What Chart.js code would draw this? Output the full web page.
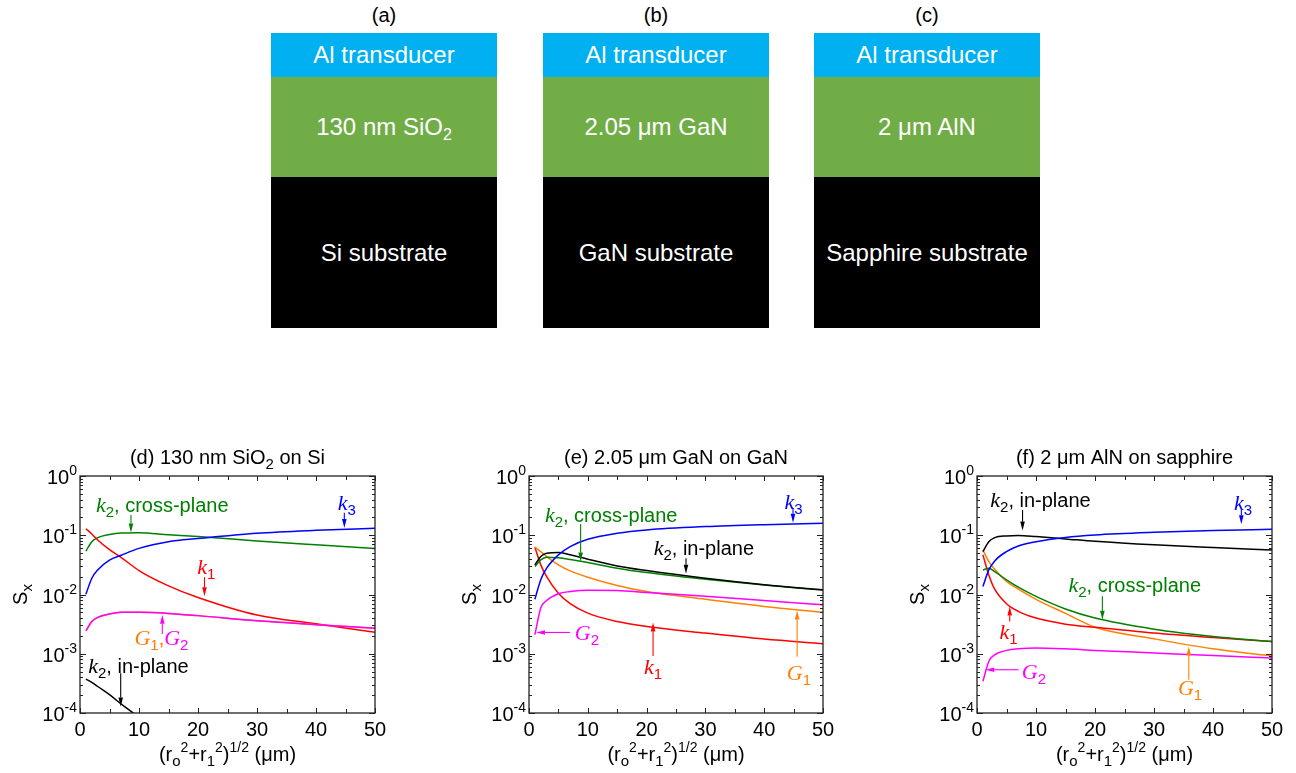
<!DOCTYPE html>
<html>
<head>
<meta charset="utf-8">
<script src="https://cdn.jsdelivr.net/npm/chart.js@4.4.0/dist/chart.umd.min.js"></script>
<style>
body { margin:0; background:#fff; width:1296px; height:773px; position:relative; overflow:hidden; font-family:"Liberation Sans", Arial, sans-serif; }
.lbl { position:absolute; top:3px; width:226px; text-align:center; font-size:20px; line-height:24px; color:#000; }
.stack { position:absolute; top:33px; width:226px; }
.layer { color:#fff; font-size:24px; display:flex; align-items:center; justify-content:center; }
.layer sub { font-size:16px; position:relative; top:5px; vertical-align:baseline; line-height:0; }
.al { height:44px; background:#00b0f0; }
.film { height:100px; background:#70ad47; }
.subs { height:151px; background:#000; }
canvas { position:absolute; top:440px; }
</style>
</head>
<body>

<div class="lbl" style="left:271px">(a)</div>
<div class="stack" style="left:271px">
  <div class="layer al"><span>Al transducer</span></div>
  <div class="layer film"><span>130 nm SiO<sub>2</sub></span></div>
  <div class="layer subs"><span>Si substrate</span></div>
</div>
<div class="lbl" style="left:543px">(b)</div>
<div class="stack" style="left:543px">
  <div class="layer al"><span>Al transducer</span></div>
  <div class="layer film"><span>2.05 μm GaN</span></div>
  <div class="layer subs"><span>GaN substrate</span></div>
</div>
<div class="lbl" style="left:814px">(c)</div>
<div class="stack" style="left:814px">
  <div class="layer al"><span>Al transducer</span></div>
  <div class="layer film"><span>2 μm AlN</span></div>
  <div class="layer subs"><span>Sapphire substrate</span></div>
</div>

<canvas id="pd" width="432" height="333" style="left:0px"></canvas>
<canvas id="pe" width="432" height="333" style="left:432px"></canvas>
<canvas id="pf" width="432" height="333" style="left:864px"></canvas>

<script>
// distance (um) where the curves were read
const xs = [1, 2, 3, 5, 7, 10, 15, 20, 30, 40, 50];

// (d) 130 nm SiO2 on Si
const dK3  = [0.0101, 0.0188, 0.026, 0.038, 0.046, 0.060, 0.078, 0.088, 0.108, 0.121, 0.131];
const dK2c = [0.054, 0.078, 0.091, 0.103, 0.109, 0.110, 0.102, 0.095, 0.080, 0.069, 0.060];
const dK1  = [0.129, 0.105, 0.083, 0.057, 0.042, 0.0254, 0.014, 0.0089, 0.0045, 0.0032, 0.0023];
const dG2  = [0.00244, 0.0035, 0.0041, 0.0047, 0.0050, 0.0050, 0.0048, 0.0044, 0.0036, 0.0031, 0.0027];
const dG1  = [0.00244, 0.0035, 0.0041, 0.0047, 0.0050, 0.0050, 0.0048, 0.0044, 0.0036, 0.0031, 0.0027];
const dK2i = [3.74e-4, 3.3e-4, 2.8e-4, 2.04e-4, 1.41e-4, 8.5e-5, null, null, null, null, null];

// (e) 2.05 um GaN on GaN
const eK3  = [0.0083, 0.0177, 0.0278, 0.0467, 0.0645, 0.0857, 0.108, 0.123, 0.140, 0.151, 0.159];
const eK2i = [0.0316, 0.0437, 0.0497, 0.051, 0.0467, 0.0394, 0.0304, 0.0254, 0.0188, 0.0146, 0.012];
const eK2c = [0.0296, 0.0384, 0.0426, 0.0416, 0.039, 0.0346, 0.0278, 0.0235, 0.0181, 0.0144, 0.0119];
const eG1  = [0.0628, 0.053, 0.0437, 0.0316, 0.025, 0.0196, 0.0142, 0.0112, 0.0083, 0.0063, 0.005];
const eK1  = [0.063, 0.0316, 0.0201, 0.0105, 0.007, 0.00484, 0.0035, 0.00289, 0.00223, 0.00177, 0.00148];
const eG2  = [0.0021, 0.0059, 0.0079, 0.0103, 0.0112, 0.0118, 0.0117, 0.0108, 0.0093, 0.0079, 0.0067];

// (f) 2 um AlN on sapphire
const fK2i = [0.053, 0.078, 0.091, 0.0975, 0.099, 0.095, 0.0868, 0.079, 0.0688, 0.062, 0.0566];
const fK3  = [0.0136, 0.026, 0.0369, 0.053, 0.066, 0.078, 0.092, 0.101, 0.112, 0.12, 0.126];
const fK2c = [0.026, 0.0278, 0.0244, 0.0177, 0.0133, 0.0093, 0.0057, 0.004, 0.0026, 0.00196, 0.00161];
const fG1  = [0.0566, 0.036, 0.0267, 0.0166, 0.0123, 0.0083, 0.0048, 0.0028, 0.00179, 0.00121, 0.00092];
const fK1  = [0.0467, 0.0214, 0.0123, 0.007, 0.0052, 0.004, 0.00316, 0.0028, 0.00223, 0.00188, 0.00161];
const fG2  = [3.42e-4, 7.4e-4, 9.6e-4, 1.14e-3, 1.21e-3, 1.25e-3, 1.21e-3, 1.14e-3, 1.03e-3, 9.3e-4, 8.45e-4];

// ticks
const xTickLabels = [0, 10, 20, 30, 40, 50];
const yTickExps = [0, -1, -2, -3, -4];

const RED = '#ff0000', GREEN = '#008000', BLUE = '#0000ff', BLACK = '#000000', ORANGE = '#ff8000', MAG = '#ff00ff';
const SANS = '"Liberation Sans", Arial, sans-serif';
const SERIF = '"Liberation Serif", "Times New Roman", serif';

// rich text pieces
function n(t, c){ return {t:t, c:c, font:'20px ' + SANS, dy:0}; }
function it(t, c){ return {t:t, c:c, font:'italic 22px ' + SERIF, dy:0}; }
function sb(t, c){ return {t:t, c:c, font:'15px ' + SANS, dy:5}; }
function sp(t, c){ return {t:t, c:c, font:'14px ' + SANS, dy:-9}; }

function drawRich(ctx, parts, x, y, align){
  let w = 0;
  parts.forEach(p => { ctx.font = p.font; p.w = ctx.measureText(p.t).width; w += p.w; });
  let cx = x;
  if (align === 'center') cx = x - w / 2;
  if (align === 'right') cx = x - w;
  ctx.textAlign = 'left';
  ctx.textBaseline = 'alphabetic';
  parts.forEach(p => {
    ctx.font = p.font;
    ctx.fillStyle = p.c || '#000';
    ctx.fillText(p.t, cx, y + p.dy);
    cx += p.w;
  });
}

function arrow(ctx, x1, y1, x2, y2, color){
  const ang = Math.atan2(y2 - y1, x2 - x1);
  const L = 9, H = 2.3;
  ctx.strokeStyle = color; ctx.fillStyle = color; ctx.lineWidth = 1.1;
  ctx.beginPath();
  ctx.moveTo(x1, y1);
  ctx.lineTo(x2 - Math.cos(ang) * L, y2 - Math.sin(ang) * L);
  ctx.stroke();
  ctx.beginPath();
  ctx.moveTo(x2, y2);
  ctx.lineTo(x2 - Math.cos(ang) * L - Math.sin(ang) * H, y2 - Math.sin(ang) * L + Math.cos(ang) * H);
  ctx.lineTo(x2 - Math.cos(ang) * L + Math.sin(ang) * H, y2 - Math.sin(ang) * L - Math.cos(ang) * H);
  ctx.closePath();
  ctx.fill();
}

const k2 = (c) => [it('k', c), sb('2', c)];

// annotations: text centre (tx, ty) and arrow (ax1,ay1)->(ax2,ay2), all in data units
const notesD = [
  {parts: k2(GREEN).concat([n(', cross-plane', GREEN)]), tx:2.7, ty:0.32, align:'left', arr:[8.64, 0.22, 8.64, 0.111], c:GREEN},
  {parts: [it('k', BLUE), sb('3', BLUE)], tx:45.2, ty:0.355, align:'center', arr:[44.8, 0.24, 44.8, 0.133], c:BLUE},
  {parts: [it('k', RED), sb('1', RED)], tx:21.4, ty:0.029, align:'center', arr:[21.1, 0.0196, 21.1, 0.0093], c:RED},
  {parts: [it('G', ORANGE), sb('1', ORANGE), n(',', ORANGE), it('G', MAG), sb('2', MAG)], tx:13.8, ty:0.00184, align:'center', arr:[13.95, 0.00215, 13.95, 0.00454], c:MAG},
  {parts: k2(BLACK).concat([n(', in-plane', BLACK)]), tx:1.4, ty:6.3e-4, align:'left', arr:[6.9, 4.7e-4, 6.9, 1.29e-4], c:BLACK}
];
const notesE = [
  {parts: [it('k', BLUE), sb('3', BLUE)], tx:45.0, ty:0.369, align:'center', arr:[44.9, 0.285, 44.9, 0.163], c:BLUE},
  {parts: k2(GREEN).concat([n(', cross-plane', GREEN)]), tx:2.7, ty:0.22, align:'left', arr:[8.78, 0.155, 8.78, 0.036], c:GREEN},
  {parts: k2(BLACK).concat([n(', in-plane', BLACK)]), tx:21.2, ty:0.060, align:'left', arr:[26.7, 0.041, 26.7, 0.0223], c:BLACK},
  {parts: [it('G', MAG), sb('2', MAG)], tx:7.8, ty:0.00223, align:'left', arr:[6.96, 0.00229, 1.19, 0.00229], c:MAG},
  {parts: [it('k', RED), sb('1', RED)], tx:21.1, ty:5.96e-4, align:'center', arr:[21.1, 9.2e-4, 21.1, 3.37e-3], c:RED},
  {parts: [it('G', ORANGE), sb('1', ORANGE)], tx:45.9, ty:4.72e-4, align:'center', arr:[45.6, 8.9e-4, 45.6, 0.00537], c:ORANGE}
];
const notesF = [
  {parts: k2(BLACK).concat([n(', in-plane', BLACK)]), tx:2.25, ty:0.394, align:'left', arr:[7.72, 0.267, 7.72, 0.12], c:BLACK},
  {parts: [it('k', BLUE), sb('3', BLUE)], tx:45.1, ty:0.355, align:'center', arr:[44.8, 0.267, 44.8, 0.153], c:BLUE},
  {parts: k2(GREEN).concat([n(', cross-plane', GREEN)]), tx:15.5, ty:0.0146, align:'left', arr:[21.25, 0.0093, 21.25, 0.00374], c:GREEN},
  {parts: [it('k', RED), sb('1', RED)], tx:5.36, ty:0.00229, align:'center', arr:[5.55, 0.0035, 5.55, 0.0063], c:RED},
  {parts: [it('G', MAG), sb('2', MAG)], tx:7.6, ty:5.0e-4, align:'left', arr:[7.05, 5.37e-4, 1.41, 5.37e-4], c:MAG},
  {parts: [it('G', ORANGE), sb('1', ORANGE)], tx:36.1, ty:2.63e-4, align:'center', arr:[35.9, 3.65e-4, 35.9, 1.33e-3], c:ORANGE}
];

// frame, ticks, labels and notes
const decor = {
  id: 'decor',
  afterDatasetsDraw(chart, args, opts){
    const ctx = chart.ctx, a = chart.chartArea, x = chart.scales.x, y = chart.scales.y;
    ctx.save();
    ctx.strokeStyle = '#222';
    ctx.lineWidth = 1.3;
    ctx.strokeRect(a.left, a.top, a.right - a.left, a.bottom - a.top);
    ctx.lineWidth = 1;
    ctx.beginPath();
    for (let v = 0; v <= 50; v += 5){
      const px = Math.round(x.getPixelForValue(v)) + 0.5;
      const L = v % 10 === 0 ? 5 : 4;
      ctx.moveTo(px, a.bottom); ctx.lineTo(px, a.bottom - L);
      ctx.moveTo(px, a.top); ctx.lineTo(px, a.top + L);
    }
    for (let e = -4; e <= 0; e++){
      for (let m = 1; m < 10; m++){
        const v = m * Math.pow(10, e);
        if (v > 1) break;
        const py = Math.round(y.getPixelForValue(v)) + 0.5;
        const L = m === 1 ? 6 : 3;
        ctx.moveTo(a.left, py); ctx.lineTo(a.left + L, py);
        ctx.moveTo(a.right, py); ctx.lineTo(a.right - L, py);
      }
    }
    ctx.stroke();

    // x tick labels
    ctx.fillStyle = '#000';
    ctx.font = '20px ' + SANS;
    ctx.textAlign = 'center';
    ctx.textBaseline = 'alphabetic';
    xTickLabels.forEach(v => ctx.fillText(String(v), x.getPixelForValue(v), a.bottom + 23));

    // y tick labels 10^n
    yTickExps.forEach(e => {
      const py = y.getPixelForValue(Math.pow(10, e));
      drawRich(ctx, [n('10'), sp(String(e))], a.left - 3, py + 8, 'right');
    });

    // axis titles
    const xt = [n('(r'), sb('o'), sp('2'), n('+r'), sb('1'), sp('2'), n(')'), sp('1/2'), n(' (μm)')];
    drawRich(ctx, xt, (a.left + a.right) / 2, a.bottom + 48, 'center');
    ctx.save();
    ctx.translate(a.left - 53, (a.top + a.bottom) / 2);
    ctx.rotate(-Math.PI / 2);
    drawRich(ctx, [n('S'), sb('x')], 0, 0, 'center');
    ctx.restore();

    // panel title
    drawRich(ctx, opts.title, (a.left + a.right) / 2, a.top - 12, 'center');

    // notes
    opts.notes.forEach(nt => {
      const px = x.getPixelForValue(nt.tx), py = y.getPixelForValue(nt.ty);
      drawRich(ctx, nt.parts, px, py + 7, nt.align);
      arrow(ctx, x.getPixelForValue(nt.arr[0]), y.getPixelForValue(nt.arr[1]),
                 x.getPixelForValue(nt.arr[2]), y.getPixelForValue(nt.arr[3]), nt.c);
    });
    ctx.restore();
  }
};

function line(vals, color){
  return {
    data: xs.map((v, i) => ({x: v, y: vals[i]})),
    borderColor: color,
    borderWidth: 1.5,
    pointRadius: 0,
    fill: false,
    cubicInterpolationMode: 'monotone'
  };
}

function makeChart(id, sets, title, notes, pad){
  new Chart(document.getElementById(id).getContext('2d'), {
    type: 'line',
    data: { datasets: sets },
    options: {
      responsive: false,
      animation: false,
      events: [],
      layout: { padding: pad },
      plugins: {
        legend: { display: false },
        tooltip: { enabled: false },
        decor: { title: title, notes: notes }
      },
      scales: {
        x: { type: 'linear', min: 0, max: 50, display: false },
        y: { type: 'logarithmic', min: 1e-4, max: 1, display: false }
      }
    },
    plugins: [decor]
  });
}

makeChart('pd',
  [line(dG2, MAG), line(dG1, ORANGE), line(dK3, BLUE), line(dK1, RED), line(dK2c, GREEN), line(dK2i, BLACK)],
  [n('(d) 130 nm SiO'), sb('2'), n(' on Si')], notesD,
  {left: 80, right: 57, top: 36, bottom: 60});

makeChart('pe',
  [line(eK3, BLUE), line(eK2i, BLACK), line(eK2c, GREEN), line(eG2, MAG), line(eG1, ORANGE), line(eK1, RED)],
  [n('(e) 2.05 μm GaN on GaN')], notesE,
  {left: 97, right: 41, top: 36, bottom: 60});

makeChart('pf',
  [line(fK3, BLUE), line(fK2i, BLACK), line(fK2c, GREEN), line(fK1, RED), line(fG1, ORANGE), line(fG2, MAG)],
  [n('(f) 2 μm AlN on sapphire')], notesF,
  {left: 113, right: 24, top: 36, bottom: 60});
</script>
</body>
</html>
